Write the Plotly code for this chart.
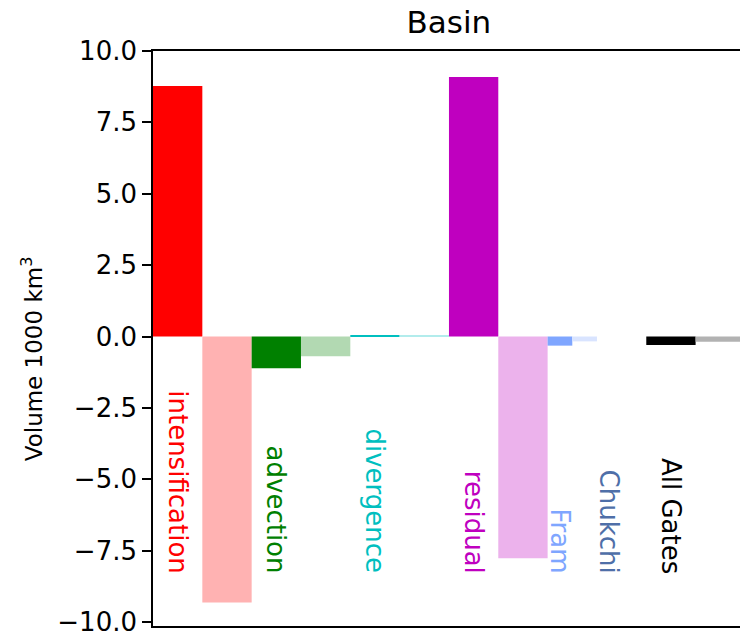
import plotly.graph_objects as go

# Volume budget terms for the basin (1000 km^3)
terms = ["intensification", "advection", "divergence", "residual", "Fram", "Chukchi", "All Gates"]
primary = [8.77, -1.11, 0.04, 9.09, -0.32, 0.0, -0.30]
secondary = [-9.32, -0.69, 0.03, -7.77, -0.17, 0.0, -0.18]
group_span = [1.0, 1.0, 1.0, 1.0, 0.5, 0.5, 1.0]
colors = ["#ff0000", "#008000", "#00bfbf", "#bf00bf", "#7fa6ff", "#4f6fa8", "#000000"]
y_ticks = [-10.0, -7.5, -5.0, -2.5, 0.0, 2.5, 5.0, 7.5, 10.0]


def lighten(hex_color, alpha=0.3):
    r, g, b = (int(hex_color[i:i + 2], 16) for i in (1, 3, 5))
    mix = lambda c: round(255 - alpha * (255 - c))
    return "#{:02x}{:02x}{:02x}".format(mix(r), mix(g), mix(b))


FONT = "DejaVu Sans"

xs, ws, ys, cs = [], [], [], []
label_x = []
left = 0.0
for val_a, val_b, span, col in zip(primary, secondary, group_span, colors):
    half = span / 2
    xs += [left + half / 2, left + half + half / 2]
    ws += [half, half]
    ys += [val_a, val_b]
    cs += [col, lighten(col)]
    label_x.append(left + half / 2)
    left += span

fig = go.Figure(
    go.Bar(
        x=xs, y=ys, width=ws,
        marker=dict(color=cs, line=dict(width=0)),
        showlegend=False, hoverinfo="skip",
    )
)

annotations = []
for name, lx, col in zip(terms, label_x, colors):
    annotations.append(dict(
        x=lx, y=-8.35, xref="x", yref="y", text=name, showarrow=False,
        textangle=90, xanchor="center", yanchor="bottom", borderpad=0,
        font=dict(family=FONT, size=26, color=col),
    ))

annotations.append(dict(
    x=-0.206, y=0.464, xref="paper", yref="paper",
    text="Volume 1000 km<sup>3</sup>", showarrow=False, textangle=-90,
    xanchor="center", yanchor="middle",
    font=dict(family=FONT, size=23, color="black"),
))

fig.update_layout(
    width=740, height=631,
    margin=dict(l=153, r=0, t=51, b=5, autoexpand=False),
    paper_bgcolor="white", plot_bgcolor="white",
    barmode="overlay",
    title=dict(
        text="Basin", x=0.504, xref="paper", xanchor="center",
        y=1 - 22 / 631, yref="container", yanchor="middle",
        font=dict(family=FONT, size=31, color="black"),
    ),
    annotations=annotations,
    xaxis=dict(
        range=[0, 5.95], showticklabels=False, ticks="",
        showgrid=False, zeroline=False, automargin=False,
        showline=True, linecolor="black", linewidth=1.6, mirror=True,
    ),
    yaxis=dict(
        range=[-10.14, 10.0], tickvals=y_ticks,
        ticktext=[f"{v:.1f}".replace("-", "\u2212") for v in y_ticks],
        ticks="outside", ticklen=9, tickwidth=1.5, tickcolor="black",
        tickfont=dict(family=FONT, size=26, color="black"),
        ticklabeloverflow="allow", automargin=False,
        showgrid=False, zeroline=False,
        showline=True, linecolor="black", linewidth=1.6, mirror=False,
    ),
)

fig.write_html("out.html")
